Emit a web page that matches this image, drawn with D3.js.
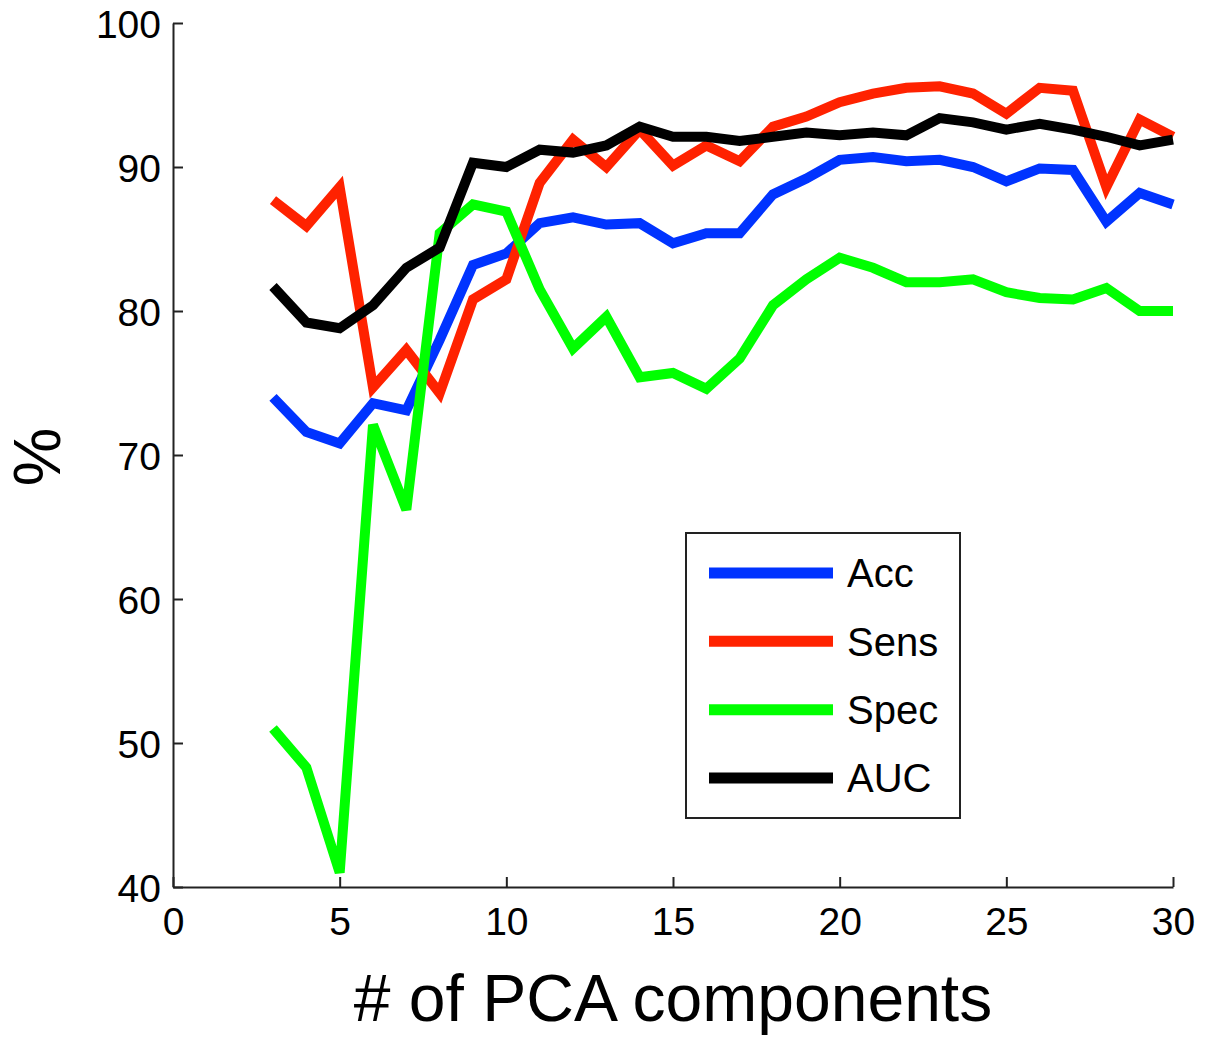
<!DOCTYPE html>
<html>
<head>
<meta charset="utf-8">
<script src="https://cdn.jsdelivr.net/npm/d3@7"></script>
<style>
  body { margin: 0; background: #fff; }
  text { font-family: "Liberation Sans", Arial, sans-serif; fill: #000; }
</style>
</head>
<body>
<script>
// number of PCA components
var components = d3.range(3, 31);

var acc  = [74.0, 71.6, 70.8, 73.6, 73.1, 78.0, 83.2, 84.0, 86.1, 86.5, 86.0, 86.1, 84.7, 85.4,
            85.4, 88.1, 89.2, 90.5, 90.7, 90.4, 90.5, 90.0, 89.0, 89.9, 89.8, 86.2, 88.2, 87.4];
var sens = [87.7, 85.9, 88.6, 74.7, 77.3, 74.3, 80.8, 82.2, 88.9, 91.9, 90.0, 92.6, 90.1, 91.5,
            90.4, 92.8, 93.5, 94.5, 95.1, 95.5, 95.6, 95.1, 93.7, 95.5, 95.3, 88.6, 93.3, 92.1];
var spec = [51.0, 48.3, 41.0, 72.1, 66.2, 85.4, 87.4, 86.9, 81.5, 77.4, 79.6, 75.4, 75.7, 74.6,
            76.7, 80.4, 82.2, 83.7, 83.0, 82.0, 82.0, 82.2, 81.3, 80.9, 80.8, 81.6, 80.0, 80.0];
var auc  = [81.7, 79.2, 78.8, 80.4, 83.0, 84.4, 90.3, 90.0, 91.2, 91.0, 91.5, 92.8, 92.1, 92.1,
            91.8, 92.1, 92.4, 92.2, 92.4, 92.2, 93.4, 93.1, 92.6, 93.0, 92.6, 92.1, 91.5, 91.9];

var seriesNames = ['Acc', 'Sens', 'Spec', 'AUC'];
var seriesValues = [acc, sens, spec, auc];
var colors = ['#0033ff', '#ff2200', '#00ff00', '#000000'];

var xTicks = [0, 5, 10, 15, 20, 25, 30];
var yTicks = [40, 50, 60, 70, 80, 90, 100];

var svgWidth = 1213, svgHeight = 1040;
var plotLeft = 173, plotRight = 1173, plotTop = 23, plotBottom = 887;

var svg = d3.select('body').append('svg')
  .attr('width', svgWidth).attr('height', svgHeight);

var x = d3.scaleLinear().domain([0, 30]).range([plotLeft, plotRight]);
var y = d3.scaleLinear().domain([40, 100]).range([plotBottom, plotTop]);

// lines, drawn in the same order as the legend
var line = d3.line()
  .x(function (d) { return x(d[0]); })
  .y(function (d) { return y(d[1]); });

seriesValues.forEach(function (vals, i) {
  svg.append('path')
    .datum(components.map(function (c, j) { return [c, vals[j]]; }))
    .attr('d', line)
    .attr('fill', 'none')
    .attr('stroke', colors[i])
    .attr('stroke-width', 10)
    .attr('stroke-linejoin', 'miter')
    .attr('stroke-miterlimit', 4);
});

// axes, matlab style: ticks pointing in
var xAxis = svg.append('g')
  .attr('transform', 'translate(0,' + plotBottom + ')')
  .call(d3.axisBottom(x).tickValues(xTicks).tickSizeInner(-10).tickSizeOuter(0).tickPadding(20));

var yAxis = svg.append('g')
  .attr('transform', 'translate(' + plotLeft + ',0)')
  .call(d3.axisLeft(y).tickValues(yTicks).tickSizeInner(-10).tickSizeOuter(0).tickPadding(12));

[xAxis, yAxis].forEach(function (g) {
  g.select('.domain').attr('stroke', '#222').attr('stroke-width', 2);
  g.selectAll('.tick line').attr('stroke', '#222').attr('stroke-width', 2);
  g.selectAll('.tick text')
    .style('font-family', '"Liberation Sans", Arial, sans-serif')
    .style('font-size', '39px')
    .attr('fill', '#000');
});
xAxis.selectAll('.tick text').attr('dy', '0.71em');
yAxis.selectAll('.tick text').attr('dy', '0.36em');

// axis titles
svg.append('text')
  .attr('x', (plotLeft + plotRight) / 2)
  .attr('y', 1021)
  .attr('text-anchor', 'middle')
  .style('font-size', '66px')
  .text('# of PCA components');

svg.append('text')
  .attr('transform', 'translate(60,457) rotate(-90)')
  .attr('text-anchor', 'middle')
  .style('font-size', '66px')
  .text('%');

// legend
var legend = svg.append('g').attr('transform', 'translate(686,533)');
legend.append('rect')
  .attr('width', 274).attr('height', 285)
  .attr('fill', '#fff').attr('stroke', '#222').attr('stroke-width', 2);

var rowY = d3.scalePoint().domain(seriesNames).range([40, 245]);

seriesNames.forEach(function (name, i) {
  legend.append('line')
    .attr('x1', 23).attr('x2', 147)
    .attr('y1', rowY(name)).attr('y2', rowY(name))
    .attr('stroke', colors[i]).attr('stroke-width', 11);
  legend.append('text')
    .attr('x', 161).attr('y', rowY(name))
    .attr('dy', '0.36em')
    .style('font-size', '40px')
    .text(name);
});
</script>
</body>
</html>
